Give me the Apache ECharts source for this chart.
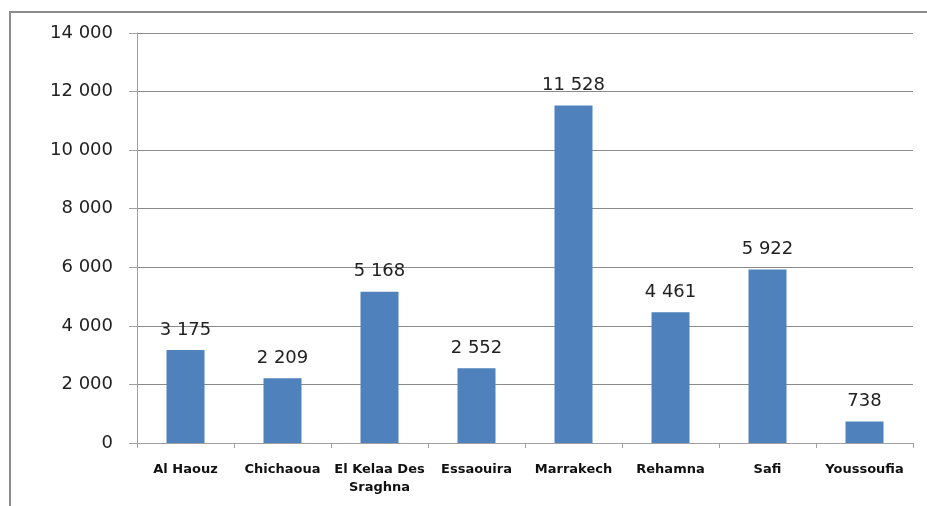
<!DOCTYPE html>
<html><head><meta charset="utf-8">
<script src="https://cdn.jsdelivr.net/npm/echarts@6/dist/echarts.min.js"></script>
<style>html,body{margin:0;padding:0;background:#fff;}#frame{position:absolute;left:9px;top:11px;width:940px;height:520px;border:2px solid #8c8c8c;box-sizing:border-box;}#c{position:absolute;left:0;top:0;width:927px;height:506px;}</style>
</head><body>
<div id="frame"></div>
<div id="c"></div>
<script>
const categories = ["Al Haouz", "Chichaoua", "El Kelaa Des\nSraghna", "Essaouira", "Marrakech", "Rehamna", "Safi", "Youssoufia"];
const values = [3175, 2209, 5168, 2552, 11528, 4461, 5922, 738];
const fmt = v => String(v).replace(/\B(?=(\d{3})+(?!\d))/g, ' ');
const chart = echarts.init(document.getElementById('c'), null, {renderer: 'canvas'});
chart.setOption({
  animation: false,
  grid: {left: 137, right: 14, top: 33, bottom: 63, containLabel: false},
  xAxis: {
    type: 'category', data: categories,
    axisLine: {lineStyle: {color: '#a0a0a0', width: 1}},
    axisTick: {show: true, length: 5, lineStyle: {color: '#a0a0a0'}},
    axisLabel: {color: '#111', fontFamily: 'DejaVu Sans', fontWeight: 'bold', fontSize: 13, margin: 18, lineHeight: 18, interval: 0}
  },
  yAxis: {
    type: 'value', min: 0, max: 14000, interval: 2000,
    axisLine: {show: true, lineStyle: {color: '#a0a0a0', width: 1}},
    axisTick: {show: true, length: 8, lineStyle: {color: '#a0a0a0'}},
    splitLine: {lineStyle: {color: '#8a8a8a', width: 1}},
    axisLabel: {color: '#222', fontFamily: 'DejaVu Sans', fontSize: 18, margin: 24, formatter: v => fmt(v)}
  },
  series: [{
    type: 'bar', data: values, barWidth: 38,
    itemStyle: {color: '#4F81BD'},
    label: {show: true, position: 'top', distance: 11, color: '#222', fontFamily: 'DejaVu Sans', fontSize: 18, formatter: p => fmt(p.value)}
  }]
});
</script>
</body></html>
